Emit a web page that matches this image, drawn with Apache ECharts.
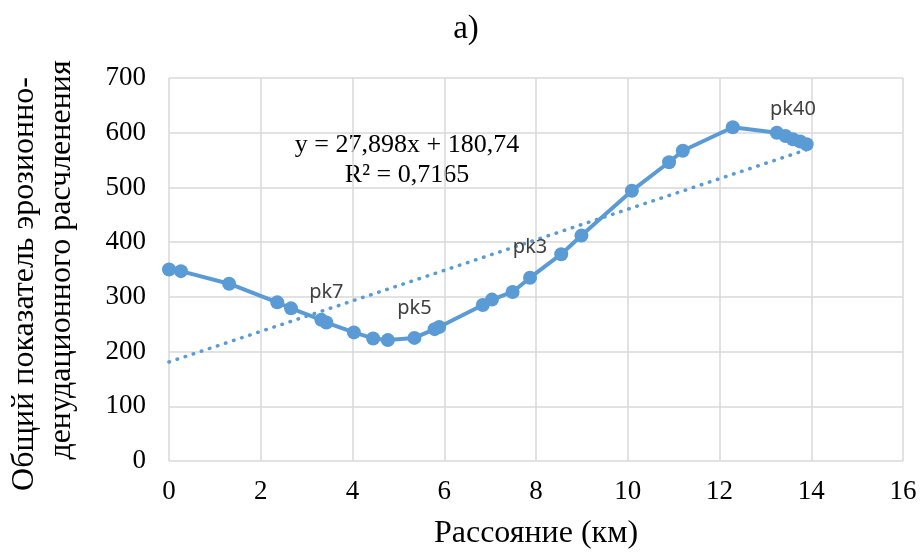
<!DOCTYPE html>
<html>
<head>
<meta charset="utf-8">
<script src="https://cdn.jsdelivr.net/npm/echarts@6/dist/echarts.min.js"></script>
<style>
  html, body { margin: 0; padding: 0; background: #fff; }
  #chart { width: 922px; height: 555px; }
</style>
</head>
<body>
<div id="chart"></div>
<script>
// distance along profile (km) and index value
const distKm = [0.00, 0.26, 1.31, 2.36, 2.66, 3.32, 3.43, 4.03, 4.45, 4.77, 5.35, 5.79, 5.89,
  6.84, 7.04, 7.49, 7.87, 8.55, 8.99, 10.09, 10.90, 11.20, 12.29, 13.25, 13.44, 13.60, 13.76, 13.90];
const indexVal = [350, 347, 324, 290, 279, 258, 253, 235, 224, 221, 225, 241, 245,
  285, 295, 309, 335, 378, 412, 494, 546, 567, 610, 600, 594, 588, 584, 579];
const pointLabels = ['', '', '', '', '', '', 'pk7', '', '', '', 'pk5', '', '',
  '', '', '', 'pk3', '', '', '', '', '', '', '', '', 'pk40', '', ''];
// linear trend ends
const trendX = [0, 13.9];
const trendY = [181, 569];
const xTicks = [0, 2, 4, 6, 8, 10, 12, 14, 16];
const yTicks = [0, 100, 200, 300, 400, 500, 600, 700];
const equation = ['y = 27,898x + 180,74', 'R² = 0,7165'];
const yTitle = ['Общий показатель эрозионно-', 'денудационного расчленения'];

const blue = '#5b9bd5';
const serif = '"Liberation Serif", "DejaVu Serif", serif';

let chart = echarts.init(document.getElementById('chart'));

let pts = distKm.map((x, i) => {
  let d = { value: [x, indexVal[i]] };
  if (pointLabels[i]) {
    d.label = { show: true, formatter: pointLabels[i] };
  }
  return d;
});

chart.setOption({
  animation: false,
  grid: { left: 169, right: 19, top: 78, bottom: 93 },
  xAxis: {
    type: 'value',
    min: xTicks[0],
    max: xTicks[xTicks.length - 1],
    interval: 2,
    name: 'Рассояние (км)',
    nameLocation: 'middle',
    nameGap: 57,
    nameTextStyle: { fontFamily: serif, fontSize: 32, color: '#000' },
    axisLine: { show: false },
    axisTick: { show: false },
    axisLabel: { fontFamily: serif, fontSize: 27, color: '#000', margin: 17 },
    splitLine: { lineStyle: { color: '#d9d9d9', width: 1.5 } }
  },
  yAxis: {
    type: 'value',
    min: yTicks[0],
    max: yTicks[yTicks.length - 1],
    interval: 100,
    axisLine: { show: false },
    axisTick: { show: false },
    axisLabel: { fontFamily: serif, fontSize: 27, color: '#000', margin: 23 },
    splitLine: { lineStyle: { color: '#d9d9d9', width: 1.5 } }
  },
  graphic: [
    {
      type: 'text',
      x: 466,
      y: 29,
      style: {
        text: 'а)',
        font: '33px ' + serif,
        fill: '#000',
        align: 'center',
        verticalAlign: 'middle'
      }
    },
    {
      type: 'text',
      x: 25,
      y: 284,
      rotation: Math.PI / 2,
      style: {
        text: yTitle[0],
        font: '32px ' + serif,
        fill: '#000',
        align: 'center',
        verticalAlign: 'middle'
      }
    },
    {
      type: 'text',
      x: 62,
      y: 260,
      rotation: Math.PI / 2,
      style: {
        text: yTitle[1],
        font: '32px ' + serif,
        fill: '#000',
        align: 'center',
        verticalAlign: 'middle'
      }
    },
    {
      type: 'text',
      x: 407,
      y: 160,
      style: {
        text: equation.join('\n'),
        font: '26px ' + serif,
        fill: '#000',
        align: 'center',
        verticalAlign: 'middle',
        lineHeight: 30
      }
    }
  ],
  series: [
    {
      type: 'line',
      data: trendX.map((x, i) => [x, trendY[i]]),
      symbol: 'none',
      lineStyle: { color: blue, width: 3.5, type: [0.5, 8], cap: 'round' },
      z: 1
    },
    {
      type: 'line',
      data: pts,
      symbol: 'circle',
      symbolSize: 14,
      itemStyle: { color: blue },
      lineStyle: { color: blue, width: 4 },
      label: {
        position: 'top',
        distance: 13,
        fontFamily: '"Noto Sans", "Open Sans", sans-serif',
        fontSize: 20,
        color: '#404040'
      },
      z: 2
    }
  ]
});
</script>
</body>
</html>
